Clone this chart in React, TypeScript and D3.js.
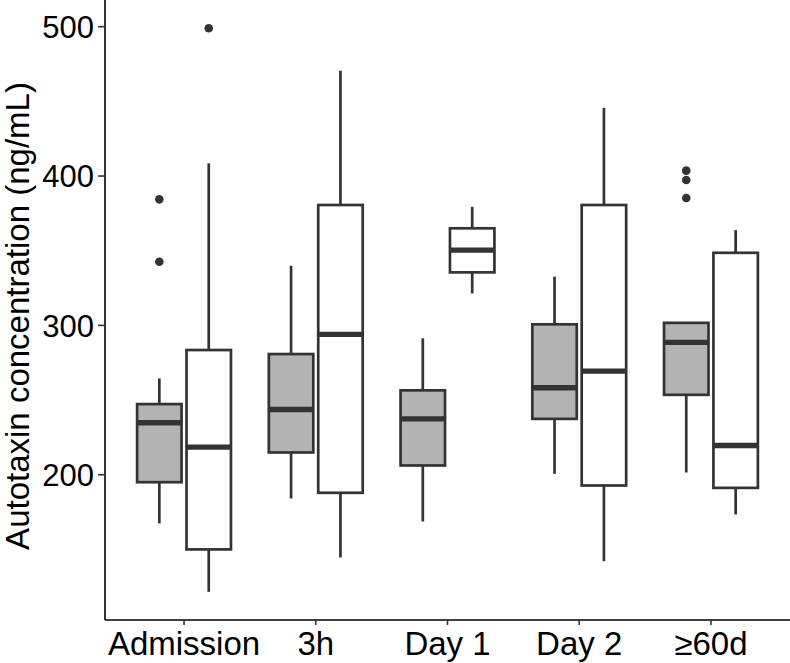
import React, { useRef, useEffect } from 'react';
import * as d3 from 'd3';

// timepoints on the x axis
const categories = ['Admission', '3h', 'Day 1', 'Day 2', '≥60d'];

// box stats per timepoint: [lower whisker, Q1, median, Q3, upper whisker]
const greyStats: number[][] = [
  [167.4, 195.0, 234.8, 247.3, 264.5],
  [184.1, 214.9, 243.7, 280.8, 339.9],
  [168.7, 206.2, 237.4, 256.5, 291.3],
  [200.6, 237.4, 258.2, 300.7, 332.6],
  [201.5, 253.5, 288.6, 301.7, 301.7],
];
const whiteStats: number[][] = [
  [121.6, 150.0, 218.5, 283.5, 408.5],
  [144.6, 187.9, 294.0, 380.6, 470.5],
  [321.4, 335.5, 350.4, 365.0, 379.4],
  [142.1, 192.8, 269.4, 380.6, 445.7],
  [173.4, 191.2, 219.6, 348.6, 363.8],
];

const greyOutliers: number[][] = [[384.4, 342.6], [], [], [], [403.6, 397.3, 385.3]];
const whiteOutliers: number[][] = [[499.0], [], [], [], []];

const yTicks = [200, 300, 400, 500];

const W = 790;
const H = 663;

const App: React.FC = () => {
  const svgRef = useRef<SVGSVGElement | null>(null);

  useEffect(() => {
    document.body.style.margin = '0';
    if (!svgRef.current) return;
    const svg = d3.select(svgRef.current);
    svg.selectAll('*').remove();

    const left = 105, right = 790, top = 0, bottom = 620;
    const ink = '#333333';
    const font = '"Liberation Sans", Arial, sans-serif';

    const all = [
      ...greyStats.flat(), ...whiteStats.flat(),
      ...greyOutliers.flat(), ...whiteOutliers.flat(),
    ];
    const lo = d3.min(all)!;
    const hi = d3.max(all)!;
    const pad = (hi - lo) * 0.05;

    const x = d3.scalePoint<string>().domain(categories).range([left, right]).padding(0.6);
    const y = d3.scaleLinear().domain([lo - pad, hi + pad]).range([bottom, top]);

    const step = x.step();
    const half = step * 0.75 / 2;
    const boxW = half * 0.9;

    const groups = [
      { stats: greyStats, outliers: greyOutliers, fill: '#b3b3b3', dx: -half / 2 },
      { stats: whiteStats, outliers: whiteOutliers, fill: '#ffffff', dx: half / 2 },
    ];

    const g = svg.append('g');

    groups.forEach(grp => {
      grp.stats.forEach((s, i) => {
        const cx = x(categories[i])! + grp.dx;
        const [wLo, q1, med, q3, wHi] = s;
        g.append('line')
          .attr('x1', cx).attr('x2', cx)
          .attr('y1', y(q3)).attr('y2', y(wHi))
          .attr('stroke', ink).attr('stroke-width', 2.7);
        g.append('line')
          .attr('x1', cx).attr('x2', cx)
          .attr('y1', y(q1)).attr('y2', y(wLo))
          .attr('stroke', ink).attr('stroke-width', 2.7);
        g.append('rect')
          .attr('x', cx - boxW / 2).attr('y', y(q3))
          .attr('width', boxW).attr('height', y(q1) - y(q3))
          .attr('fill', grp.fill)
          .attr('stroke', ink).attr('stroke-width', 2.7);
        g.append('line')
          .attr('x1', cx - boxW / 2).attr('x2', cx + boxW / 2)
          .attr('y1', y(med)).attr('y2', y(med))
          .attr('stroke', ink).attr('stroke-width', 5.4);
        grp.outliers[i].forEach(o => {
          g.append('circle')
            .attr('cx', cx).attr('cy', y(o)).attr('r', 4.3)
            .attr('fill', ink);
        });
      });
    });

    // y axis
    const yAxis = svg.append('g');
    yAxis.append('line')
      .attr('x1', left).attr('x2', left).attr('y1', top).attr('y2', bottom)
      .attr('stroke', '#000').attr('stroke-width', 1.6);
    yTicks.forEach(t => {
      yAxis.append('line')
        .attr('x1', left - 7).attr('x2', left).attr('y1', y(t)).attr('y2', y(t))
        .attr('stroke', ink).attr('stroke-width', 1.6);
      yAxis.append('text')
        .attr('x', left - 11).attr('y', y(t))
        .attr('dy', '0.36em')
        .attr('text-anchor', 'end')
        .attr('font-family', font).attr('font-size', 31)
        .attr('fill', '#000')
        .text(t);
    });

    // x axis
    const xAxis = svg.append('g');
    xAxis.append('line')
      .attr('x1', left).attr('x2', right).attr('y1', bottom).attr('y2', bottom)
      .attr('stroke', '#000').attr('stroke-width', 1.6);
    categories.forEach(c => {
      xAxis.append('line')
        .attr('x1', x(c)!).attr('x2', x(c)!).attr('y1', bottom).attr('y2', bottom + 5)
        .attr('stroke', ink).attr('stroke-width', 1.6);
      xAxis.append('text')
        .attr('x', x(c)!).attr('y', 655)
        .attr('text-anchor', 'middle')
        .attr('font-family', font).attr('font-size', 33)
        .attr('fill', '#000')
        .text(c);
    });

    svg.append('text')
      .attr('transform', `translate(29, 316) rotate(-90)`)
      .attr('text-anchor', 'middle')
      .attr('font-family', font).attr('font-size', 33)
      .attr('fill', '#000')
      .text('Autotaxin concentration (ng/mL)');
  }, []);

  return (
    <svg ref={svgRef} width={W} height={H} style={{ display: 'block', background: '#fff' }}></svg>
  );
};

export default App;
